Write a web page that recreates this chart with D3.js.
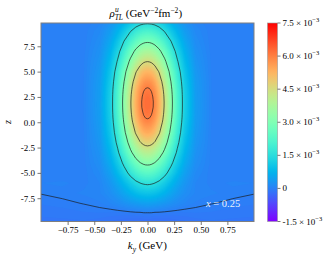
<!DOCTYPE html>
<html><head><meta charset="utf-8">
<script src="https://cdn.jsdelivr.net/npm/d3@7"></script>
<style>body{margin:0;background:#fff}text{font-family:"Liberation Serif","Times New Roman",serif;fill:#000}</style>
</head><body><svg id="c" width="335" height="259"></svg>
<script>
// k_y grid (GeV), k >= 0 half; the picture is mirror-symmetric in k_y
const kValues = [0, 0.0175, 0.035, 0.0525, 0.07, 0.11, 0.16, 0.22, 0.28, 0.35, 0.45, 0.6, 0.8, 1.0];
// z grid, top to bottom
const zValues = [10, 9, 8, 7, 6, 5, 4, 3.5, 3.25, 3, 2.75, 2.5, 2, 1.5, 1, 0.75, 0.5, 0.25, 0, -1, -2, -3, -4, -5, -6, -7, -8, -9, -10];
// rho (x 1e-3 GeV^-2 fm^-2), one row per z, one column per k
const rho = [
  [1.28, 1.27, 1.26, 1.23, 1.20, 1.09, 0.91, 0.67, 0.44, 0.24, 0.08, 0.01, 0, 0],
  [2.08, 2.07, 2.05, 2.00, 1.95, 1.77, 1.47, 1.08, 0.72, 0.40, 0.14, 0.02, 0, 0],
  [2.90, 2.89, 2.85, 2.79, 2.71, 2.46, 2.05, 1.51, 1.01, 0.55, 0.19, 0.02, 0, 0],
  [3.72, 3.71, 3.66, 3.58, 3.48, 3.16, 2.63, 1.93, 1.29, 0.71, 0.24, 0.03, 0, 0],
  [4.49, 4.47, 4.42, 4.32, 4.20, 3.81, 3.18, 2.33, 1.56, 0.86, 0.29, 0.04, 0, 0],
  [5.23, 5.21, 5.15, 5.04, 4.90, 4.44, 3.70, 2.72, 1.81, 1.00, 0.34, 0.04, 0, 0],
  [5.77, 5.75, 5.68, 5.56, 5.40, 4.90, 4.09, 3.00, 2.00, 1.10, 0.38, 0.05, 0, 0],
  [5.97, 5.95, 5.87, 5.75, 5.59, 5.07, 4.23, 3.10, 2.07, 1.14, 0.39, 0.05, 0, 0],
  [6.05, 6.03, 5.95, 5.83, 5.66, 5.14, 4.28, 3.15, 2.10, 1.16, 0.39, 0.05, 0, 0],
  [6.12, 6.10, 6.02, 5.89, 5.73, 5.20, 4.33, 3.18, 2.12, 1.17, 0.40, 0.05, 0, 0],
  [6.17, 6.15, 6.07, 5.94, 5.78, 5.24, 4.37, 3.21, 2.14, 1.18, 0.40, 0.05, 0, 0],
  [6.21, 6.19, 6.11, 5.98, 5.81, 5.27, 4.40, 3.23, 2.15, 1.19, 0.40, 0.05, 0, 0],
  [6.25, 6.23, 6.15, 6.02, 5.85, 5.31, 4.43, 3.25, 2.17, 1.19, 0.41, 0.05, 0, 0],
  [6.24, 6.22, 6.14, 6.01, 5.84, 5.30, 4.42, 3.24, 2.17, 1.19, 0.41, 0.05, 0, 0],
  [6.17, 6.15, 6.07, 5.94, 5.78, 5.24, 4.37, 3.21, 2.14, 1.18, 0.40, 0.05, 0, 0],
  [6.12, 6.10, 6.02, 5.89, 5.73, 5.20, 4.33, 3.18, 2.12, 1.17, 0.40, 0.05, 0, 0],
  [6.05, 6.03, 5.95, 5.83, 5.66, 5.14, 4.28, 3.15, 2.10, 1.16, 0.39, 0.05, 0, 0],
  [5.97, 5.95, 5.87, 5.75, 5.59, 5.07, 4.23, 3.10, 2.07, 1.14, 0.39, 0.05, 0, 0],
  [5.88, 5.86, 5.79, 5.66, 5.50, 4.99, 4.16, 3.06, 2.04, 1.12, 0.38, 0.05, 0, 0],
  [5.40, 5.38, 5.31, 5.20, 5.05, 4.58, 3.82, 2.81, 1.87, 1.03, 0.35, 0.04, 0, 0],
  [4.75, 4.73, 4.67, 4.57, 4.45, 4.03, 3.36, 2.47, 1.65, 0.91, 0.31, 0.04, 0, 0],
  [4.00, 3.98, 3.94, 3.85, 3.74, 3.40, 2.83, 2.08, 1.39, 0.76, 0.26, 0.03, 0, 0],
  [3.18, 3.17, 3.13, 3.06, 2.98, 2.70, 2.25, 1.65, 1.10, 0.61, 0.21, 0.03, 0, 0],
  [2.38, 2.37, 2.34, 2.29, 2.23, 2.02, 1.69, 1.24, 0.83, 0.45, 0.15, 0.02, 0, 0],
  [1.60, 1.59, 1.57, 1.54, 1.50, 1.36, 1.13, 0.83, 0.56, 0.31, 0.10, 0.03, 0.06, 0.05],
  [1.00, 0.99, 0.98, 0.96, 0.94, 0.85, 0.71, 0.53, 0.36, 0.21, 0.09, 0.06, 0.03, 0.005],
  [0.45, 0.45, 0.44, 0.43, 0.42, 0.38, 0.32, 0.24, 0.16, 0.10, 0.04, 0.005, -0.025, -0.045],
  [-0.03, -0.03, -0.03, -0.04, -0.05, -0.05, -0.06, -0.07, -0.07, -0.07, -0.055, -0.06, -0.08, -0.09],
  [-0.25, -0.25, -0.25, -0.25, -0.25, -0.24, -0.23, -0.22, -0.20, -0.18, -0.15, -0.12, -0.12, -0.12]
];
const contourLevels = [0, 1.5, 3, 4.5, 6];
const xTicks = [-0.75, -0.5, -0.25, 0, 0.25, 0.5, 0.75];
const yTicks = [7.5, 5, 2.5, 0, -2.5, -5, -7.5];
const cbTicks = [7.5, 6, 4.5, 3, 1.5, 0, -1.5];
const cbLabels = ["7.5", "6.0", "4.5", "3.0", "1.5", "0", "-1.5"];
const vMin = -1.5, vMax = 7.5;

const svg = d3.select("#c");
const L = 41, R = 254, T = 23, B = 221.5;
const x = d3.scaleLinear().domain([-1, 1]).range([L, R]);
const y = d3.scaleLinear().domain([-9.8, 9.8]).range([B, T]);

function rainbow(v) {
  const t = Math.max(0, Math.min(1, (v - vMin) / (vMax - vMin)));
  const cl = a => Math.round(255 * Math.max(0, Math.min(1, a)));
  return `rgb(${cl(Math.abs(2 * t - 0.5))},${cl(Math.sin(Math.PI * t))},${cl(Math.cos(Math.PI * t / 2))})`;
}

// full grid by mirroring
const kFull = kValues.slice(1).reverse().map(k => -k).concat(kValues);
const values = [];
rho.forEach(row => { row.slice(1).reverse().concat(row).forEach(v => values.push(v)); });
const nx = kFull.length, ny = zValues.length;
const ix = d3.scaleLinear().domain(d3.range(nx)).range(kFull);
const iz = d3.scaleLinear().domain(d3.range(ny)).range(zValues);
const proj = d3.geoTransform({ point(px, py) { this.stream.point(x(ix(px - 0.5)), y(iz(py - 0.5))); } });
const path = d3.geoPath(proj);

svg.append("clipPath").attr("id", "clip").append("rect")
  .attr("x", L).attr("y", T).attr("width", R - L).attr("height", B - T);
const g = svg.append("g").attr("clip-path", "url(#clip)");

const dt = 0.05;
const fillLevels = d3.range(vMin, vMax, dt);
const bands = d3.contours().size([nx, ny]).smooth(true).thresholds(fillLevels)(values);
g.selectAll("path.band").data(bands).join("path").attr("class", "band")
  .attr("d", path).attr("fill", d => rainbow(d.value + dt / 2)).attr("stroke", "none");

const lines = d3.contours().size([nx, ny]).thresholds(contourLevels)(values);
g.selectAll("path.line").data(lines).join("path").attr("class", "line")
  .attr("d", path).attr("fill", "none").attr("stroke", "#1a1a1a").attr("stroke-opacity", 0.85).attr("stroke-width", 0.8);

// frame
svg.append("rect").attr("x", L).attr("y", T).attr("width", R - L).attr("height", B - T)
  .attr("fill", "none").attr("stroke", "#7f7f7f").attr("stroke-width", 1);

// axes
const xAxis = d3.axisBottom(x).tickValues(xTicks).tickSize(3.5).tickPadding(2)
  .tickFormat(d => (d < 0 ? "\u2212" : "") + Math.abs(d).toFixed(2));
const gx = svg.append("g").attr("transform", `translate(0,${B})`).call(xAxis);
const yAxis = d3.axisLeft(y).tickValues(yTicks).tickSize(3.5).tickPadding(2.5)
  .tickFormat(d => d.toFixed(1));
const gy = svg.append("g").attr("transform", `translate(${L},0)`).call(yAxis);
[gx, gy].forEach(a => {
  a.select(".domain").remove();
  a.selectAll(".tick line").attr("stroke", "#555").attr("stroke-width", 0.8);
  a.selectAll(".tick text").attr("font-size", 9).attr("fill", "#000")
    .style("font-family", '"Liberation Serif", serif');
});

function centerText(sel, cx) {
  const w = sel.node().getBBox().width;
  sel.attr("x", cx - w / 2);
}

// title
const title = svg.append("text").attr("x", 0).attr("y", 17).attr("font-size", 11);
title.append("tspan").attr("font-style", "italic").text("\u03C1");
title.append("tspan").attr("font-style", "italic").attr("font-size", 7.5).attr("dy", -5).text("u");
title.append("tspan").attr("font-style", "italic").attr("font-size", 7.5).attr("dx", -4).attr("dy", 7.5).text("TL");
title.append("tspan").attr("dy", -2.5).text(" (GeV");
title.append("tspan").attr("font-size", 7.5).attr("dy", -4.5).text("\u22122");
title.append("tspan").attr("dy", 4.5).text("fm");
title.append("tspan").attr("font-size", 7.5).attr("dy", -4.5).text("\u22122");
title.append("tspan").attr("dy", 4.5).text(")");
centerText(title, 146.5);

// x label
const xl = svg.append("text").attr("x", 0).attr("y", 249).attr("font-size", 11);
xl.append("tspan").attr("font-style", "italic").text("k");
xl.append("tspan").attr("font-style", "italic").attr("font-size", 7.5).attr("dy", 2.5).text("y");
xl.append("tspan").attr("dy", -2.5).text(" (GeV)");
centerText(xl, 147.5);

// y label
svg.append("text").attr("transform", "translate(11,122) rotate(-90)").attr("text-anchor", "middle")
  .attr("font-size", 10).attr("font-style", "italic").text("z");

// annotation
const an = svg.append("text").attr("x", 206).attr("y", 207).attr("font-size", 10.5)
  .style("fill", "#ffffff").attr("fill-opacity", 0.92);
an.append("tspan").attr("font-style", "italic").text("x");
an.append("tspan").text(" = 0.25");

// colorbar
const cbL = 267.5, cbW = 10;
const cy = d3.scaleLinear().domain([vMin, vMax]).range([B, T]);
const grad = svg.append("defs").append("linearGradient").attr("id", "cbg")
  .attr("x1", 0).attr("y1", 1).attr("x2", 0).attr("y2", 0);
d3.range(0, 1.0001, 0.02).forEach(t => {
  grad.append("stop").attr("offset", t).attr("stop-color", rainbow(vMin + t * (vMax - vMin)));
});
svg.append("rect").attr("x", cbL).attr("y", T).attr("width", cbW).attr("height", B - T)
  .attr("fill", "url(#cbg)").attr("stroke", "#9a9a9a").attr("stroke-width", 0.6);
const cbg = svg.append("g");
cbTicks.forEach((v, i) => {
  const yy = cy(v);
  cbg.append("line").attr("x1", cbL + cbW).attr("x2", cbL + cbW + 3).attr("y1", yy).attr("y2", yy)
    .attr("stroke", "#555").attr("stroke-width", 0.8);
  const t = cbg.append("text").attr("x", cbL + cbW + 5).attr("y", yy + 3).attr("font-size", 9);
  if (v === 0) { t.text("0"); }
  else {
    t.append("tspan").text(cbLabels[i] + " \u00D7 10");
    t.append("tspan").attr("font-size", 6.5).attr("dy", -4).text("\u22123");
  }
});
</script></body></html>
